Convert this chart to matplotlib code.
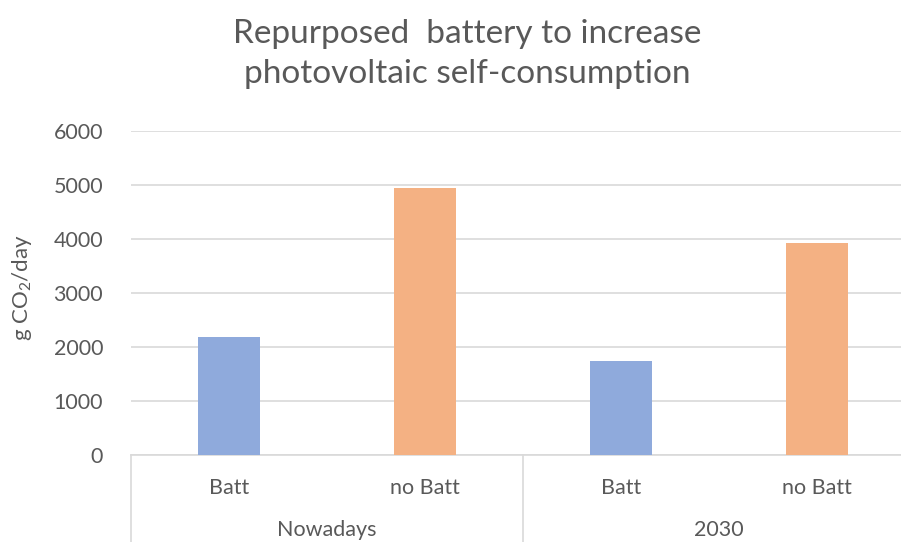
import matplotlib.pyplot as plt
import matplotlib.transforms as mtransforms
import numpy as np

plt.rcParams['font.family'] = ['Lato', 'DejaVu Sans']
plt.rcParams['mathtext.default'] = 'regular'

groups = ['Nowadays', '2030']
cases = ['Batt', 'no Batt']
values = [2190, 4950, 1740, 3930]
colors = ['#8FAADC', '#F4B183', '#8FAADC', '#F4B183']
yticks = [0, 1000, 2000, 3000, 4000, 5000, 6000]

text_col = '#595959'
line_col = '#D9D9D9'

fig = plt.figure(figsize=(9.01, 5.42), dpi=100)
W, H = 901, 542
ax = fig.add_axes([131 / W, (542 - 455) / H, (915 - 131) / W, (455 - 131) / H])

x = np.arange(len(values))
ax.bar(x, values, width=0.32, color=colors, zorder=3)

ax.set_xlim(-0.5, len(values) - 0.5)
ax.set_ylim(0, 6000)
ax.set_yticks(yticks)
ax.set_yticklabels([str(t) for t in yticks], fontsize=15.5, color=text_col)
ax.tick_params(axis='y', length=0, pad=20)
ax.set_xticks([])
ax.grid(axis='y', color=line_col, linewidth=1.2, zorder=0)
for s in ['top', 'right', 'left']:
    ax.spines[s].set_visible(False)
ax.spines['bottom'].set_color(line_col)
ax.spines['bottom'].set_linewidth(1.2)

fig.text(22 / W, (542 - 288) / H, 'g CO$_2$/day', rotation=90,
         ha='center', va='center', fontsize=16, color=text_col)

# two-level category axis below the bars
trans = mtransforms.blended_transform_factory(ax.transData, fig.transFigure)
for i, v in enumerate(values):
    ax.text(i, (542 - 488) / H, cases[i % 2], transform=trans,
            ha='center', va='center', fontsize=15.5, color=text_col)
for g, name in enumerate(groups):
    ax.text(2 * g + 0.5, (542 - 530) / H, name, transform=trans,
            ha='center', va='center', fontsize=15.5, color=text_col)
for xb in [-0.5, 1.5, 3.5]:
    ax.plot([xb, xb], [(542 - 455) / H, 0], transform=trans,
            color=line_col, linewidth=1.2, clip_on=False)

fig.text(467 / W, (542 - 54) / H,
         'Repurposed  battery to increase\nphotovoltaic self-consumption',
         ha='center', va='center', fontsize=24, color=text_col, linespacing=1.4)

fig.savefig('out.png', dpi=100)
